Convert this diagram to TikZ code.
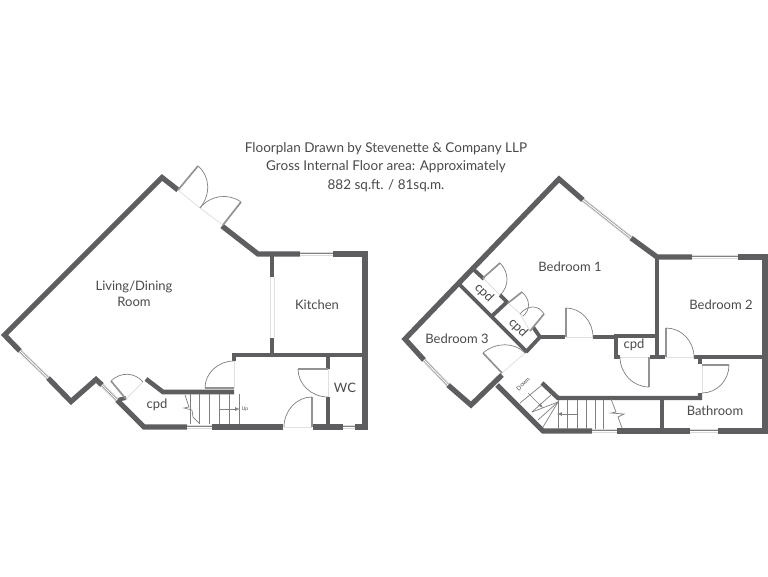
\documentclass[tikz,border=0pt]{standalone}
\usepackage{fontspec}
\setmainfont{Lato}
\usetikzlibrary{calc}
\definecolor{wallgray}{HTML}{5E5E60}
\definecolor{inkgray}{HTML}{4A4A4C}
\tikzset{>=latex,
  wall/.style={draw=wallgray,line width=5.2pt,line join=miter},
  partition/.style={draw=wallgray,line width=3.8pt,line join=miter},
  leaf/.style={draw=gray!85,line width=1.7pt},
  swing/.style={draw=gray,line width=0.7pt},
  sill/.style={draw=black!12,line width=0.8pt},
  tread/.style={draw=gray,line width=0.7pt},
  label/.style={text=inkgray,font=\fontsize{13}{16}\selectfont,align=center,inner sep=0pt},
}
\begin{document}
\begin{tikzpicture}[x=1pt,y=-1pt]
  \useasboundingbox[fill=white] (0,0) rectangle (768,576);
  % ground floor
  \draw[wall] (178,190) -- (162,177.5) -- (4.5,335) -- (20,351);
  \draw[wall] (48,378) -- (71,401.5) -- (96,379.5) -- (102,385);
  \draw[wall] (117,400) -- (144,427) -- (187,427);
  \draw[wall] (212,427) -- (283,427);
  \draw[wall] (313,427) -- (343,427);
  \draw[wall] (355,427) -- (365,427) -- (365,254) -- (333,254);
  \draw[wall] (300,254) -- (258,254) -- (222,226);
  \draw[partition] (272,254) -- (272,277);
  \draw[partition] (272,338) -- (272,355);
  \draw[partition] (234,361) -- (234,355) -- (365,355);
  \draw[partition] (328,355) -- (328,369);
  \draw[partition] (328,397) -- (328,427);
  \draw[partition,line width=4.6pt] (146,379) -- (163,392) -- (234,392);
  \draw[partition] (117,400) -- (126,398);
  \draw[sill] (270,277) -- (270,338);
  \draw[sill] (274,277) -- (274,338);
  % first floor
  \draw[wall] (583,200) -- (559,179) -- (405,339) -- (424,360);
  \draw[wall] (448,385) -- (471,405) -- (502,375);
  \draw[wall] (497,385) -- (543,431) -- (592,431);
  \draw[wall] (617,431) -- (690,431);
  \draw[wall] (718,431) -- (765,431) -- (765,257) -- (738,257);
  \draw[wall] (692,257) -- (657,257) -- (631,238);
  \draw[partition] (657,257) -- (657,357);
  \draw[partition] (665,357) -- (650,357);
  \draw[partition] (620,357) -- (616,357) -- (616,336) -- (657,336);
  \draw[partition] (593,337) -- (616,337);
  \draw[partition] (540,337) -- (565,337);
  \draw[partition] (694,357) -- (765,357);
  \draw[partition] (700,357) -- (700,364);
  \draw[partition,line width=4.4pt] (700,393) -- (700,398) -- (558,398) -- (542,383);
  \draw[partition] (662,398) -- (662,431);
  \draw[partition] (460,285) -- (527,352);
  \draw[partition] (472,268) -- (484,279);
  \draw[partition] (500,295) -- (507,302) -- (492,316);
  \draw[partition] (533,327) -- (540,337) -- (526,352);
  % windows
  \foreach \Ax/\Ay/\Bx/\By in {20/351/48/378,102/385/117/400,187/427/212/427,343/427/355/427,
      300/254/333/254,583/200/631/238,424/360/448/385,592/431/617/431,690/431/718/431,692/257/738/257} {%
    \draw[draw=black!15,line width=4pt] (\Ax,\Ay) -- (\Bx,\By);
    \draw[draw=gray,line width=2pt] (\Ax,\Ay) -- (\Bx,\By);
    \draw[draw=white,line width=1pt] (\Ax,\Ay) -- (\Bx,\By);
  }
  % doors: hinge, tip of the leaf, far side of the opening
  \foreach \Hx/\Hy/\Tx/\Ty/\Ex/\Ey in {178/190/198/166/200/208,
      223/225/241/202/200/208,
      126/399/111/381/143/382,
      234/388/205/388/234/361,
      328/369/298/369/328/397,
      312/427/312/397/284/427,
      483/278/500/263/500/295,
      508/303/522/292/523/316,
      530/331/544/314/520/314,
      566/337/566/308/593/337,
      502/373/483/353/525/353,
      649/357/649/387/620/357,
      666/357/666/328/694/357,
      702/365/729/365/702/393} {%
    \draw[sill] (\Hx,\Hy) -- (\Ex,\Ey);
    \draw[leaf] (\Hx,\Hy) -- (\Tx,\Ty);
    \draw[swing] (\Tx,\Ty) .. controls ($(\Tx,\Ty)+0.55*(\Ex,\Ey)-0.55*(\Hx,\Hy)$)
      and ($(\Ex,\Ey)+0.55*(\Tx,\Ty)-0.55*(\Hx,\Hy)$) .. (\Ex,\Ey);
  }
  % stairs
  \foreach \X in {190,199,209,219,229,239} { \draw[tread] (\X,394) -- (\X,424); }
  \draw[tread] (185,395) -- (189,407) -- (184,408) -- (192,410) -- (193,417) -- (199,423);
  \draw[->,tread] (219,409) -- (240,409);
  \foreach \X in {558,567,577,586,595,603} { \draw[tread] (\X,400) -- (\X,429); }
  \draw[tread] (611,399) -- (616,412) -- (611,413) -- (624,414) -- (618,417) -- (622,428);
  \draw[->,tread] (577,414) -- (557,414);
  \foreach \X/\Y in {543/427,538/420,532/412} { \draw[tread] (558,402) -- (\X,\Y); }
  \draw[tread] (542,385) -- (520,403);
  \draw[tread] (552,394) -- (532,412);
  \draw[->,tread] (528,393) -- (543,408);
  % texts
  \node[label,font=\fontsize{13.5}{18.5}\selectfont] (title) at (386,167) {Floorplan Drawn by Stevenette \& Company LLP\\
    Gross Internal Floor area: Approximately\\882 sq.ft. / 81sq.m.};
  \node[label] (living) at (134,294) {Living/Dining\\Room};
  \node[label] (kitchen) at (317,305) {Kitchen};
  \node[label] (wc) at (345,388) {WC};
  \node[label] (cpdA) at (157,405) {cpd};
  \node[label] (bedA) at (570,267) {Bedroom 1};
  \node[label] (bedB) at (721,305) {Bedroom 2};
  \node[label] (bedC) at (457,339) {Bedroom 3};
  \node[label] (bath) at (715,411) {Bathroom};
  \node[label] (cpdB) at (634,345) {cpd};
  \node[label,rotate=-45] (cpdC) at (484,293) {cpd};
  \node[label,rotate=-45] (cpdD) at (518,328) {cpd};
  \node[label,rotate=45,font=\fontsize{6}{7}\selectfont] (down) at (523,384) {Down};
  \node[label,font=\fontsize{5}{6}\selectfont] (up) at (245,409) {Up};
\end{tikzpicture}
\end{document}
